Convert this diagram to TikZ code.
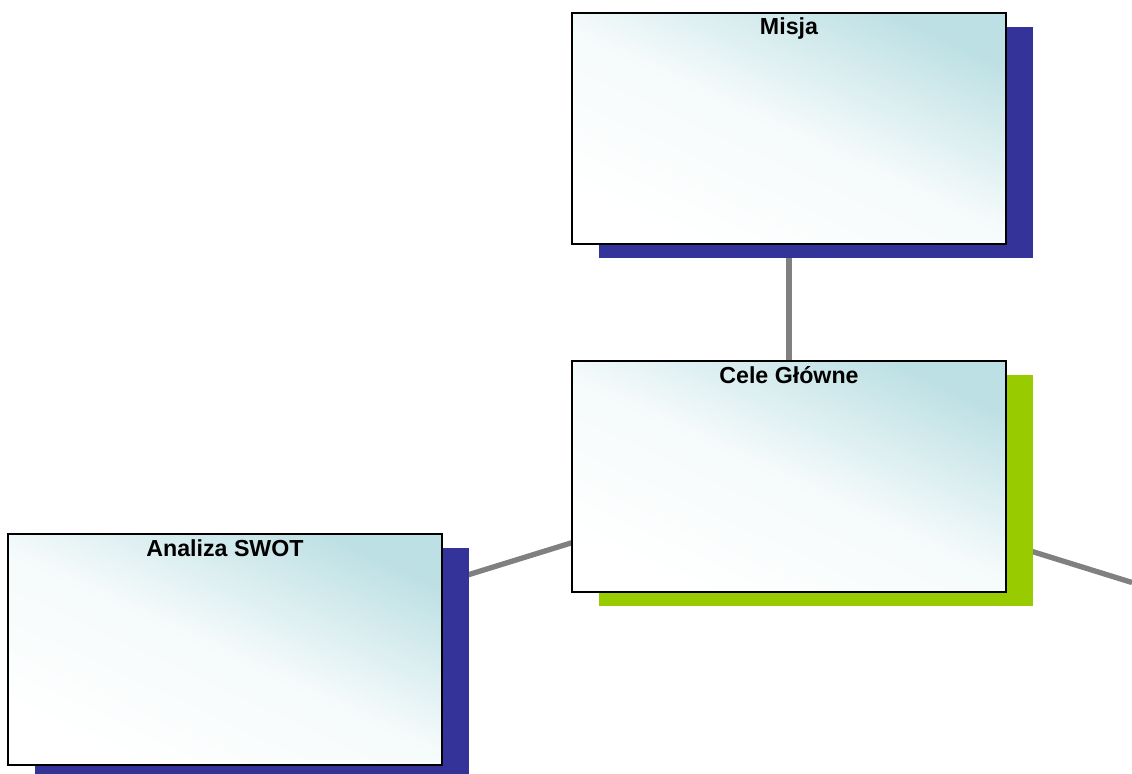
\documentclass[tikz,border=0pt]{standalone}
\usepackage{fontspec}
\setmainfont{Liberation Sans}
\usetikzlibrary{positioning,shadows,backgrounds}

\definecolor{boxteal}{RGB}{189,224,228}
\definecolor{shadowblue}{RGB}{51,51,153}
\definecolor{shadowgreen}{RGB}{153,204,0}
\definecolor{linkgray}{RGB}{128,128,128}

\tikzset{
  box/.style={draw=black, line width=1.5pt, minimum width=325.5pt,
    minimum height=173.25pt, inner sep=0pt, outer sep=0pt, text height=16.5pt,
    text depth=156.75pt, font=\bfseries\fontsize{17.4}{20}\selectfont,
    top color=boxteal, bottom color=white, middle color=white!85!boxteal,
    shading angle=-25},
  blueshadow/.style={general shadow={fill=shadowblue, shadow xshift=20.25pt, shadow yshift=-10.5pt}},
  greenshadow/.style={general shadow={fill=shadowgreen, shadow xshift=20.25pt, shadow yshift=-10.5pt}},
  link/.style={draw=linkgray, line width=4pt}
}

\begin{document}
\begin{tikzpicture}[x=0.75pt,y=-0.75pt]
  \useasboundingbox (0,0) rectangle (1132,774);
  \node[box,blueshadow] (misja) at (789,128.5) {Misja};
  \node[box,greenshadow] (cele) [below = 87.75pt of misja] {Cele Główne};
  \node[box,blueshadow] (swot) [below left = -43.5pt and 97.5pt of cele] {Analiza SWOT};
  \coordinate (dalej) at (1132,582.5);
  \begin{scope}[on background layer]
    \draw[link] (misja) -- (cele);
    \draw[link] (swot) -- (cele);
    \draw[link] (cele) -- (dalej);
  \end{scope}
\end{tikzpicture}
\end{document}
